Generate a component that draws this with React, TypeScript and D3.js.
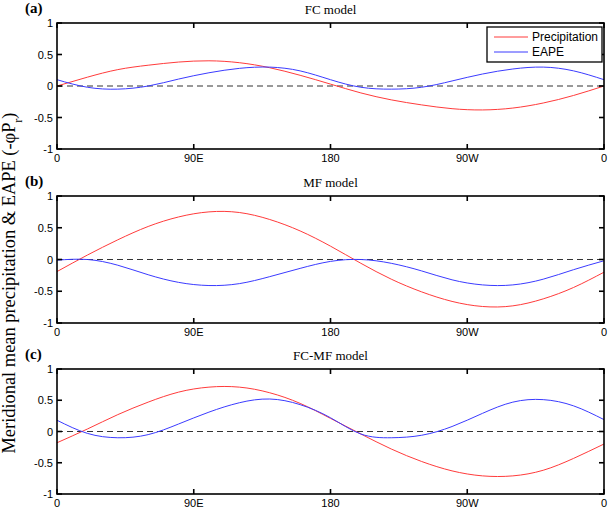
import { useEffect, useRef } from 'react'
import * as d3 from 'd3'

// longitude samples (degrees east, 0..360)
const LON = [0, 20, 40, 60, 80, 100, 120, 140, 160, 180, 200, 220, 240, 260, 280, 300, 320, 340, 360]

const FC_PRECIP = [0.0, 0.14, 0.26, 0.33, 0.38, 0.40, 0.37, 0.29, 0.17, 0.03, -0.11, -0.22, -0.30, -0.36, -0.38, -0.35, -0.27, -0.15, 0.0]
const FC_EAPE = [0.10, -0.02, -0.05, 0.0, 0.11, 0.21, 0.28, 0.30, 0.24, 0.10, -0.02, -0.05, -0.02, 0.08, 0.19, 0.27, 0.30, 0.24, 0.10]

const MF_PRECIP = [-0.19, 0.07, 0.31, 0.52, 0.67, 0.75, 0.74, 0.63, 0.45, 0.21, -0.06, -0.31, -0.51, -0.66, -0.74, -0.73, -0.62, -0.44, -0.20]
const MF_EAPE = [-0.01, 0.0, -0.09, -0.24, -0.36, -0.41, -0.38, -0.27, -0.14, -0.03, 0.0, -0.06, -0.18, -0.32, -0.40, -0.40, -0.31, -0.16, -0.02]

const FCMF_PRECIP = [-0.18, 0.04, 0.27, 0.47, 0.63, 0.71, 0.71, 0.62, 0.45, 0.21, -0.04, -0.28, -0.48, -0.63, -0.71, -0.71, -0.62, -0.43, -0.20]
const FCMF_EAPE = [0.18, -0.03, -0.10, -0.05, 0.12, 0.31, 0.46, 0.52, 0.43, 0.22, -0.04, -0.10, -0.06, 0.08, 0.29, 0.47, 0.51, 0.41, 0.19]

const X_TICKS = [0, 90, 180, 270, 360]
const X_TICK_LABELS = ['0', '90E', '180', '90W', '0']
const Y_TICKS = [1, 0.5, 0, -0.5, -1]

const SERIES_NAMES = ['Precipitation', 'EAPE']
const SERIES_COLORS = ['#ff3b3b', '#3b3bff']

const PANELS = [
  { tag: '(a)', title: 'FC model', series: [FC_PRECIP, FC_EAPE], top: 23, bottom: 149, legend: true },
  { tag: '(b)', title: 'MF model', series: [MF_PRECIP, MF_EAPE], top: 196, bottom: 323, legend: false },
  { tag: '(c)', title: 'FC-MF model', series: [FCMF_PRECIP, FCMF_EAPE], top: 369, bottom: 494, legend: false },
]

const W = 609
const H = 509
const LEFT = 57
const RIGHT = 604

export default function App() {
  const svgRef = useRef<SVGSVGElement>(null)

  useEffect(() => {
    const svgEl = svgRef.current
    if (!svgEl) return
    const svg = d3.select(svgEl)
    svg.selectAll('*').remove()

    const sans = 'Liberation Sans, Arial, sans-serif'
    const serif = 'Liberation Serif, Times New Roman, serif'

    const x = d3.scaleLinear().domain([0, 360]).range([LEFT, RIGHT])

    PANELS.forEach(p => {
      const y = d3.scaleLinear().domain([-1, 1]).range([p.bottom, p.top])
      const g = svg.append('g')

      // zero line
      g.append('line')
        .attr('x1', LEFT).attr('x2', RIGHT)
        .attr('y1', y(0)).attr('y2', y(0))
        .attr('stroke', '#333').attr('stroke-width', 1)
        .attr('stroke-dasharray', '6,4')

      // curves
      const line = d3.line<number>()
        .x((_, i) => x(LON[i]))
        .y(d => y(d))
        .curve(d3.curveNatural)
      p.series.forEach((vals, si) => {
        g.append('path')
          .attr('d', line(vals))
          .attr('fill', 'none')
          .attr('stroke', SERIES_COLORS[si])
          .attr('stroke-width', 1)
      })

      // box
      g.append('rect')
        .attr('x', LEFT).attr('y', p.top)
        .attr('width', RIGHT - LEFT).attr('height', p.bottom - p.top)
        .attr('fill', 'none').attr('stroke', '#000').attr('stroke-width', 1.6)

      // ticks (inside, on all four sides)
      const tl = 5
      X_TICKS.forEach((t, i) => {
        g.append('line').attr('x1', x(t)).attr('x2', x(t))
          .attr('y1', p.bottom).attr('y2', p.bottom - tl)
          .attr('stroke', '#000').attr('stroke-width', 1.6)
        g.append('line').attr('x1', x(t)).attr('x2', x(t))
          .attr('y1', p.top).attr('y2', p.top + tl)
          .attr('stroke', '#000').attr('stroke-width', 1.6)
        g.append('text')
          .attr('x', x(t)).attr('y', p.bottom + 13)
          .attr('text-anchor', 'middle')
          .style('font-family', sans).style('font-size', '11px')
          .text(X_TICK_LABELS[i])
      })
      Y_TICKS.forEach(t => {
        g.append('line').attr('x1', LEFT).attr('x2', LEFT + tl)
          .attr('y1', y(t)).attr('y2', y(t))
          .attr('stroke', '#000').attr('stroke-width', 1.6)
        g.append('line').attr('x1', RIGHT).attr('x2', RIGHT - tl)
          .attr('y1', y(t)).attr('y2', y(t))
          .attr('stroke', '#000').attr('stroke-width', 1.6)
        g.append('text')
          .attr('x', LEFT - 4).attr('y', y(t))
          .attr('text-anchor', 'end').attr('dominant-baseline', 'central')
          .style('font-family', sans).style('font-size', '11px')
          .text(String(t))
      })

      // title and panel tag
      g.append('text')
        .attr('x', (LEFT + RIGHT) / 2).attr('y', p.top - 9)
        .attr('text-anchor', 'middle')
        .style('font-family', serif).style('font-size', '13px')
        .text(p.title)
      g.append('text')
        .attr('x', 25).attr('y', p.top - 10)
        .style('font-family', serif).style('font-size', '15px').style('font-weight', 'bold')
        .text(p.tag)

      if (p.legend) {
        const lx = 487, ly = 27, lw = 115, lh = 35
        g.append('rect')
          .attr('x', lx).attr('y', ly).attr('width', lw).attr('height', lh)
          .attr('fill', '#fff').attr('stroke', '#000').attr('stroke-width', 1.3)
        SERIES_NAMES.forEach((name, i) => {
          const yy = ly + 10 + i * 15
          g.append('line')
            .attr('x1', lx + 7).attr('x2', lx + 41)
            .attr('y1', yy).attr('y2', yy)
            .attr('stroke', SERIES_COLORS[i]).attr('stroke-width', 1)
          g.append('text')
            .attr('x', lx + 45).attr('y', yy)
            .attr('dominant-baseline', 'central')
            .style('font-family', sans).style('font-size', '12px')
            .text(name)
        })
      }
    })

    // shared y-axis label
    const yl = svg.append('text')
      .attr('transform', `translate(15,283) rotate(-90)`)
      .attr('text-anchor', 'middle')
      .style('font-family', serif).style('font-size', '18.4px')
    yl.append('tspan').text('Meridional mean precipitation & EAPE (-φP')
    yl.append('tspan').attr('baseline-shift', 'sub').style('font-size', '12px').text('r')
    yl.append('tspan').text(')')
  }, [])

  return (
    <svg
      ref={svgRef}
      width={W}
      height={H}
      style={{ position: 'absolute', left: 0, top: 0, background: '#fff' }}
    />
  )
}
